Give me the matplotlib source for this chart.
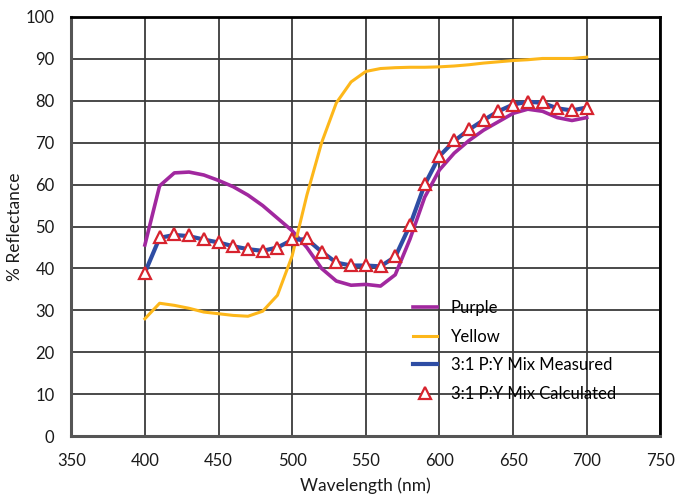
import matplotlib
matplotlib.use('Agg')
import matplotlib.pyplot as plt

# Longitudes de onda (nm)
wavelength = [400, 410, 420, 430, 440, 450, 460, 470, 480, 490, 500,
              510, 520, 530, 540, 550, 560, 570, 580, 590, 600,
              610, 620, 630, 640, 650, 660, 670, 680, 690, 700]

purple = [45.6, 59.7, 62.8, 63.0, 62.3, 61.0, 59.5, 57.5, 55.0, 52.0, 49.0,
          45.0, 40.0, 37.0, 36.0, 36.2, 35.8, 38.5, 47.0, 57.0, 63.5,
          67.5, 70.5, 73.0, 75.0, 77.0, 78.0, 77.5, 76.0, 75.3, 76.0]

yellow = [28.0, 31.7, 31.2, 30.5, 29.6, 29.2, 28.8, 28.6, 29.8, 33.6, 43.0,
          57.5, 70.0, 79.5, 84.5, 87.0, 87.7, 87.9, 88.0, 88.0, 88.1,
          88.3, 88.6, 89.0, 89.3, 89.6, 89.8, 90.1, 90.1, 90.1, 90.4]

measured = [39.0, 47.3, 48.0, 47.7, 46.9, 46.2, 45.3, 44.6, 44.2, 45.0, 46.8,
            47.0, 44.0, 41.4, 40.7, 40.7, 40.5, 42.8, 50.3, 60.0, 66.8,
            70.4, 73.1, 75.4, 77.5, 79.1, 79.8, 79.5, 78.2, 77.7, 78.4]

calculated = [39.0, 47.5, 48.3, 48.0, 47.0, 46.3, 45.3, 44.7, 44.2, 45.0, 47.0,
              47.3, 44.0, 41.6, 40.8, 40.8, 40.6, 43.0, 50.4, 60.1, 66.9,
              70.6, 73.2, 75.4, 77.6, 79.0, 79.8, 79.6, 78.2, 77.8, 78.4]

plt.rcParams['font.family'] = ['Lato', 'DejaVu Sans']

fig = plt.figure(figsize=(6.85, 4.99), dpi=100)
ax = fig.add_axes([0.104, 0.126, 0.86, 0.84])

ax.plot(wavelength, purple, color='#A1289F', lw=2.6, label='Purple')
ax.plot(wavelength, yellow, color='#FDB71A', lw=2.2, label='Yellow')
ax.plot(wavelength, measured, color='#2E4DA4', lw=3.0, label='3:1 P:Y Mix Measured')
ax.plot(wavelength, calculated, ls='none', marker='^', ms=8, mfc='white',
        mec='#D7232E', mew=1.6, label='3:1 P:Y Mix Calculated')

ax.set_xlim(350, 750)
ax.set_ylim(0, 100)
ax.set_xticks(range(350, 751, 50))
ax.set_yticks(range(0, 101, 10))
ax.grid(True, color='#3a3a3a', lw=1.3)
ax.set_axisbelow(True)
ax.tick_params(length=0, labelsize=12, colors='#1a1a1a')
ax.tick_params(axis='x', pad=12)
ax.tick_params(axis='y', pad=12)

for lado in ['left', 'bottom']:
    ax.spines[lado].set_color('#555555')
    ax.spines[lado].set_linewidth(2.2)
for lado in ['top', 'right']:
    ax.spines[lado].set_color('black')
    ax.spines[lado].set_linewidth(2.0)

ax.set_xlabel('Wavelength (nm)', fontsize=12.5, color='#1a1a1a', labelpad=6)
ax.set_ylabel('% Reflectance', fontsize=12.5, color='#1a1a1a', labelpad=2)

leg = ax.legend(loc='upper left', bbox_to_anchor=(0.555, 0.36), frameon=False,
                fontsize=12, handlelength=1.4, labelspacing=0.75, handletextpad=0.85)

plt.savefig('out.png', dpi=100)
